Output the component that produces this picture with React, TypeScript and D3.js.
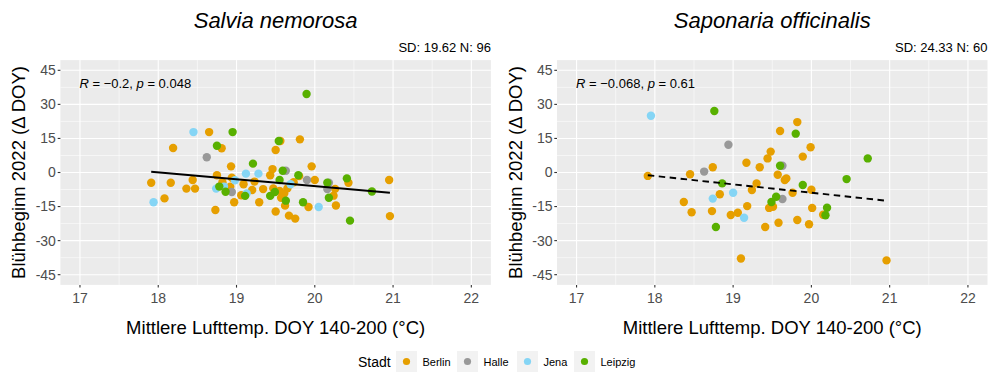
import React from "react";
import * as d3 from "d3";

type Pt = { x: number; y: number };

const cities = ["Berlin", "Halle", "Jena", "Leipzig"];
const cityColors = ["#E69F00", "#999999", "#85D5F5", "#58B000"];

const xTicks = [17, 18, 19, 20, 21, 22];
const yTicks = [-45, -30, -15, 0, 15, 30, 45];
const xMinor = [17.5, 18.5, 19.5, 20.5, 21.5];
const yMinor = [-37.5, -22.5, -7.5, 7.5, 22.5, 37.5];

// Salvia nemorosa
const salviaBerlin: Pt[] = [
  { x: 18.65, y: 17.8 }, { x: 19.81, y: 14.6 }, { x: 19.56, y: 13.9 }, { x: 18.19, y: 10.8 },
  { x: 18.81, y: 10.7 }, { x: 19.5, y: 9.9 }, { x: 18.93, y: 2.7 }, { x: 19.96, y: 2.7 },
  { x: 19.46, y: 1.5 }, { x: 19.43, y: -1.2 }, { x: 18.75, y: -1.2 }, { x: 19.8, y: -1.6 },
  { x: 20.43, y: -4.5 }, { x: 20.95, y: -3.3 }, { x: 20.0, y: -3.3 }, { x: 18.44, y: -3.3 },
  { x: 18.94, y: -2.3 }, { x: 17.91, y: -4.5 }, { x: 18.16, y: -4.5 }, { x: 19.09, y: -5.2 },
  { x: 19.23, y: -4.0 }, { x: 20.26, y: -7.2 }, { x: 20.24, y: -10.2 }, { x: 20.27, y: -14.5 },
  { x: 18.36, y: -7.1 }, { x: 18.47, y: -7.1 }, { x: 18.82, y: -4.3 }, { x: 18.08, y: -11.4 },
  { x: 19.06, y: -10.0 }, { x: 19.2, y: -7.7 }, { x: 19.34, y: -7.3 }, { x: 18.97, y: -13.1 },
  { x: 19.29, y: -13.1 }, { x: 18.73, y: -16.5 }, { x: 19.73, y: -4.3 }, { x: 20.96, y: -19.2 },
  { x: 19.92, y: -15.2 }, { x: 19.67, y: -19.0 }, { x: 19.75, y: -20.3 }, { x: 19.5, y: -17.2 },
  { x: 19.62, y: -14.6 }, { x: 19.47, y: -7.0 }, { x: 19.55, y: -8.1 }, { x: 19.61, y: -9.2 },
  { x: 19.57, y: -11.1 }, { x: 19.65, y: -7.0 }, { x: 18.92, y: -6.3 },
];
const salviaHalle: Pt[] = [
  { x: 18.62, y: 6.7 }, { x: 19.63, y: 0.8 }, { x: 19.9, y: -3.3 }, { x: 20.18, y: -4.5 },
  { x: 20.16, y: -7.3 }, { x: 18.94, y: -8.6 },
];
const salviaJena: Pt[] = [
  { x: 18.45, y: 17.8 }, { x: 19.12, y: -0.5 }, { x: 19.28, y: -0.5 }, { x: 18.98, y: -3.4 },
  { x: 18.74, y: -7.1 }, { x: 18.84, y: -6.2 }, { x: 17.94, y: -13.1 }, { x: 19.13, y: -9.2 },
  { x: 19.69, y: -5.2 }, { x: 20.05, y: -15.2 },
];
const salviaLeipzig: Pt[] = [
  { x: 19.895, y: 34.6 }, { x: 18.95, y: 17.8 }, { x: 19.54, y: 13.9 }, { x: 18.75, y: 11.8 },
  { x: 19.21, y: 3.9 }, { x: 19.59, y: 0.8 }, { x: 19.79, y: -1.2 }, { x: 20.41, y: -2.6 },
  { x: 19.55, y: -3.3 }, { x: 20.16, y: -4.5 }, { x: 18.78, y: -6.2 }, { x: 18.86, y: -8.5 },
  { x: 19.11, y: -10.3 }, { x: 20.18, y: -11.1 }, { x: 20.73, y: -8.4 }, { x: 20.45, y: -21.2 },
  { x: 19.85, y: -13.1 }, { x: 19.63, y: -12.4 }, { x: 19.43, y: -10.3 }, { x: 19.49, y: -8.6 },
];
const salviaFit: Pt[] = [{ x: 17.91, y: 0.35 }, { x: 20.96, y: -8.9 }];

// Saponaria officinalis
const saponariaBerlin: Pt[] = [
  { x: 19.82, y: 22.2 }, { x: 19.6, y: 18.3 }, { x: 19.99, y: 11.1 }, { x: 19.48, y: 9.2 },
  { x: 19.44, y: 6.2 }, { x: 19.89, y: 7.0 }, { x: 19.17, y: 4.3 }, { x: 19.34, y: 2.3 },
  { x: 18.74, y: 2.3 }, { x: 17.91, y: -1.5 }, { x: 18.45, y: -0.8 }, { x: 19.57, y: -1.0 },
  { x: 19.66, y: -3.3 }, { x: 19.68, y: -2.6 }, { x: 19.3, y: -4.8 }, { x: 19.24, y: -7.7 },
  { x: 20.0, y: -7.6 }, { x: 19.76, y: -8.9 }, { x: 18.83, y: -9.6 }, { x: 18.37, y: -13.0 },
  { x: 19.18, y: -14.8 }, { x: 19.46, y: -15.6 }, { x: 19.51, y: -15.1 }, { x: 20.01, y: -15.6 },
  { x: 20.15, y: -18.6 }, { x: 18.47, y: -17.5 }, { x: 18.73, y: -17.0 }, { x: 18.97, y: -18.7 },
  { x: 19.06, y: -17.7 }, { x: 19.58, y: -22.1 }, { x: 19.82, y: -20.9 }, { x: 19.97, y: -22.8 },
  { x: 19.41, y: -24.0 }, { x: 19.1, y: -37.9 }, { x: 20.96, y: -38.7 },
];
const saponariaHalle: Pt[] = [
  { x: 18.94, y: 12.2 }, { x: 19.63, y: 3.0 }, { x: 18.63, y: 0.4 }, { x: 19.63, y: -11.7 },
];
const saponariaJena: Pt[] = [
  { x: 17.95, y: 25.0 }, { x: 19.0, y: -8.9 }, { x: 18.74, y: -11.5 }, { x: 19.14, y: -19.9 },
];
const saponariaLeipzig: Pt[] = [
  { x: 18.76, y: 27.1 }, { x: 19.8, y: 17.1 }, { x: 20.72, y: 6.2 }, { x: 19.6, y: 3.0 },
  { x: 20.45, y: -2.9 }, { x: 18.86, y: -4.8 }, { x: 19.89, y: -5.5 }, { x: 19.55, y: -10.7 },
  { x: 19.49, y: -13.0 }, { x: 20.2, y: -15.5 }, { x: 20.18, y: -18.8 }, { x: 18.78, y: -24.0 },
];
const saponariaFit: Pt[] = [{ x: 17.91, y: -1.2 }, { x: 20.95, y: -12.4 }];

const FONT = "'Liberation Sans', Arial, Helvetica, sans-serif";

type PanelProps = {
  left: number;
  right: number;
  title: string;
  sd: string;
  rText: string;
  pText: string;
  series: Pt[][];
  fit: Pt[];
  dashed: boolean;
};

const TOP = 60.1;
const BOTTOM = 284.9;

function Panel(props: PanelProps) {
  const { left, right, title, sd, rText, pText, series, fit, dashed } = props;
  const x = d3.scaleLinear().domain([16.75, 22.25]).range([left, right]);
  const y = d3.scaleLinear().domain([-49.5, 49.5]).range([BOTTOM, TOP]);
  const line = d3
    .line<Pt>()
    .x((d) => x(d.x))
    .y((d) => y(d.y));
  const cx = (left + right) / 2;
  return (
    <g>
      <text x={cx} y={28} textAnchor="middle" fontSize={22} fontStyle="italic" fill="#000" fontFamily={FONT}>
        {title}
      </text>
      <text x={right} y={51.5} textAnchor="end" fontSize={13} fill="#000" fontFamily={FONT}>
        {sd}
      </text>
      <rect x={left} y={TOP} width={right - left} height={BOTTOM - TOP} fill="#EBEBEB" />
      {yMinor.map((t) => (
        <line key={"ym" + t} x1={left} x2={right} y1={y(t)} y2={y(t)} stroke="#fff" strokeWidth={0.55} />
      ))}
      {xMinor.map((t) => (
        <line key={"xm" + t} x1={x(t)} x2={x(t)} y1={TOP} y2={BOTTOM} stroke="#fff" strokeWidth={0.55} />
      ))}
      {yTicks.map((t) => (
        <line key={"yM" + t} x1={left} x2={right} y1={y(t)} y2={y(t)} stroke="#fff" strokeWidth={1.1} />
      ))}
      {xTicks.map((t) => (
        <line key={"xM" + t} x1={x(t)} x2={x(t)} y1={TOP} y2={BOTTOM} stroke="#fff" strokeWidth={1.1} />
      ))}
      {series.map((pts, i) =>
        pts.map((p, j) => (
          <circle key={i + "-" + j} cx={x(p.x)} cy={y(p.y)} r={4.2} fill={cityColors[i]} />
        ))
      )}
      <path
        d={line(fit) || ""}
        fill="none"
        stroke="#000"
        strokeWidth={1.9}
        strokeDasharray={dashed ? "6.5,4.5" : undefined}
      />
      <text x={x(17) - 0.5} y={87.5} fontSize={13} fill="#000" fontFamily={FONT}>
        <tspan fontStyle="italic">R</tspan>
        <tspan>{" = " + rText + ", "}</tspan>
        <tspan fontStyle="italic">p</tspan>
        <tspan>{" = " + pText}</tspan>
      </text>
      {yTicks.map((t) => (
        <g key={"yt" + t}>
          <line x1={left - 2.7} x2={left} y1={y(t)} y2={y(t)} stroke="#333" strokeWidth={1.1} />
          <text
            x={left - 4.5}
            y={y(t)}
            dy="0.35em"
            textAnchor="end"
            fontSize={14}
            fill="#4D4D4D"
            fontFamily={FONT}
          >
            {t < 0 ? "-" + Math.abs(t) : String(t)}
          </text>
        </g>
      ))}
      {xTicks.map((t) => (
        <g key={"xt" + t}>
          <line x1={x(t)} x2={x(t)} y1={BOTTOM} y2={BOTTOM + 2.7} stroke="#333" strokeWidth={1.1} />
          <text x={x(t)} y={303} textAnchor="middle" fontSize={14} fill="#4D4D4D" fontFamily={FONT}>
            {t}
          </text>
        </g>
      ))}
      <text x={cx} y={333.5} textAnchor="middle" fontSize={18.5} fill="#000" fontFamily={FONT}>
        Mittlere Lufttemp. DOY 140-200 (°C)
      </text>
      <text
        transform={`translate(${left - 35},${(TOP + BOTTOM) / 2}) rotate(-90)`}
        textAnchor="middle"
        fontSize={18.5}
        fill="#000"
        fontFamily={FONT}
      >
        Blühbeginn 2022 (Δ DOY)
      </text>
    </g>
  );
}

function Legend() {
  const keyX = [396, 457, 517, 574];
  return (
    <g fontFamily={FONT}>
      <text x={358} y={366.5} fontSize={14} fill="#000">
        Stadt
      </text>
      {cities.map((c, i) => (
        <g key={c}>
          <rect x={keyX[i]} y={351} width={21} height={21} fill="#F2F2F2" />
          <circle cx={keyX[i] + 10.5} cy={361.5} r={3.6} fill={cityColors[i]} />
          <text x={keyX[i] + 26.5} y={365.5} fontSize={11} fill="#000">
            {c}
          </text>
        </g>
      ))}
    </g>
  );
}

export default function App() {
  return (
    <svg
      width={994}
      height={379}
      style={{ position: "absolute", left: 0, top: 0, background: "#fff" }}
    >
      <rect x={0} y={0} width={994} height={379} fill="#fff" />
      <Panel
        left={60.4}
        right={490.9}
        title="Salvia nemorosa"
        sd="SD: 19.62 N: 96"
        rText="−0.2"
        pText="0.048"
        series={[salviaBerlin, salviaHalle, salviaJena, salviaLeipzig]}
        fit={salviaFit}
        dashed={false}
      />
      <Panel
        left={557}
        right={987.5}
        title="Saponaria officinalis"
        sd="SD: 24.33 N: 60"
        rText="−0.068"
        pText="0.61"
        series={[saponariaBerlin, saponariaHalle, saponariaJena, saponariaLeipzig]}
        fit={saponariaFit}
        dashed={true}
      />
      <Legend />
    </svg>
  );
}
